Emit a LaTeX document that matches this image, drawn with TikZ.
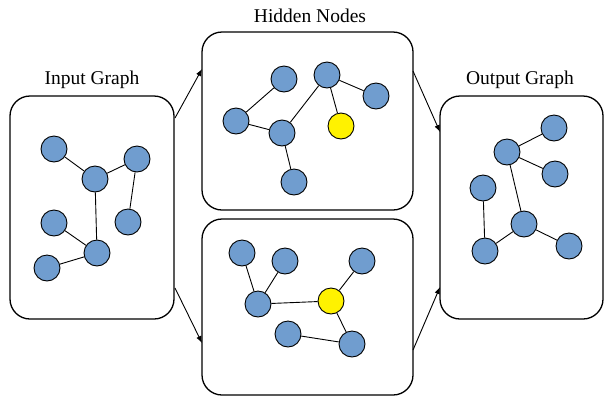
\documentclass[tikz,border=0pt]{standalone}
\usepackage{fontspec}
\setmainfont{Liberation Serif}
\usetikzlibrary{arrows.meta}
\definecolor{nodeblue}{RGB}{112,157,207}
\definecolor{nodeyellow}{RGB}{255,242,0}
\tikzset{
  panel/.style={draw=black, line width=1.3pt, rounded corners=20pt},
  gn/.style={circle, draw=black, line width=0.9pt, fill=nodeblue, minimum size=26pt, inner sep=0pt},
  hn/.style={gn, fill=nodeyellow},
  ge/.style={draw=black, line width=0.9pt},
  flow/.style={draw=black, line width=0.9pt, -{Latex[length=7pt,width=5.5pt]}},
  ttl/.style={font=\fontsize{19.5pt}{22pt}\selectfont, inner sep=0pt}
}
\begin{document}
\begin{tikzpicture}[x=1pt,y=-1pt]
\useasboundingbox (0,0) rectangle (604,397);
% panels
\draw[panel] (10,96) rectangle (174,319);
\draw[panel] (202,32) rectangle (413,210);
\draw[panel] (202,219) rectangle (413,395);
\draw[panel] (440,96) rectangle (603,319);
% titles
\node[ttl] (tin) at (92,80) {Input Graph};
\node[ttl] (thid) at (310,16) {Hidden Nodes};
\node[ttl] (tout) at (520,80) {Output Graph};
% arrow endpoints
\coordinate (s1) at (175,118);
\coordinate (e1) at (202,69);
\coordinate (s2) at (175,288);
\coordinate (e2) at (202,343);
\coordinate (s3) at (413,71);
\coordinate (e3) at (440,132);
\coordinate (s4) at (413,350);
\coordinate (e4) at (440,287);
\draw[flow] (s1) -- (e1);
\draw[flow] (s2) -- (e2);
\draw[flow] (s3) -- (e3);
\draw[flow] (s4) -- (e4);
% input graph
\node[gn] (a1) at (54,149) {};
\node[gn] (a2) at (95,179) {};
\node[gn] (a3) at (137,159) {};
\node[gn] (a4) at (54,223) {};
\node[gn] (a5) at (128,222) {};
\node[gn] (a6) at (97,253) {};
\node[gn] (a7) at (47,268) {};
\draw[ge] (a1) -- (a2);
\draw[ge] (a2) -- (a3);
\draw[ge] (a3) -- (a5);
\draw[ge] (a2) -- (a6);
\draw[ge] (a4) -- (a6);
\draw[ge] (a6) -- (a7);
% hidden top
\node[gn] (b1) at (284,79) {};
\node[gn] (b2) at (327,75) {};
\node[gn] (b3) at (376,96) {};
\node[gn] (b4) at (236,121) {};
\node[gn] (b5) at (282,133) {};
\node[hn] (b6) at (341,126) {};
\node[gn] (b7) at (294,182) {};
\draw[ge] (b1) -- (b4);
\draw[ge] (b4) -- (b5);
\draw[ge] (b5) -- (b2);
\draw[ge] (b2) -- (b3);
\draw[ge] (b2) -- (b6);
\draw[ge] (b5) -- (b7);
% hidden bottom
\node[gn] (c1) at (242,253) {};
\node[gn] (c2) at (285,261) {};
\node[gn] (c3) at (362,261) {};
\node[gn] (c4) at (258,304) {};
\node[hn] (c5) at (331,301) {};
\node[gn] (c6) at (288,334) {};
\node[gn] (c7) at (352,344) {};
\draw[ge] (c1) -- (c4);
\draw[ge] (c2) -- (c4);
\draw[ge] (c4) -- (c5);
\draw[ge] (c5) -- (c3);
\draw[ge] (c5) -- (c7);
\draw[ge] (c6) -- (c7);
% output graph
\node[gn] (d1) at (554,128) {};
\node[gn] (d2) at (507,152) {};
\node[gn] (d3) at (555,174) {};
\node[gn] (d4) at (483,188) {};
\node[gn] (d5) at (524,224) {};
\node[gn] (d6) at (485,251) {};
\node[gn] (d7) at (569,246) {};
\draw[ge] (d2) -- (d1);
\draw[ge] (d2) -- (d3);
\draw[ge] (d2) -- (d5);
\draw[ge] (d4) -- (d6);
\draw[ge] (d6) -- (d5);
\draw[ge] (d5) -- (d7);
\end{tikzpicture}
\end{document}
